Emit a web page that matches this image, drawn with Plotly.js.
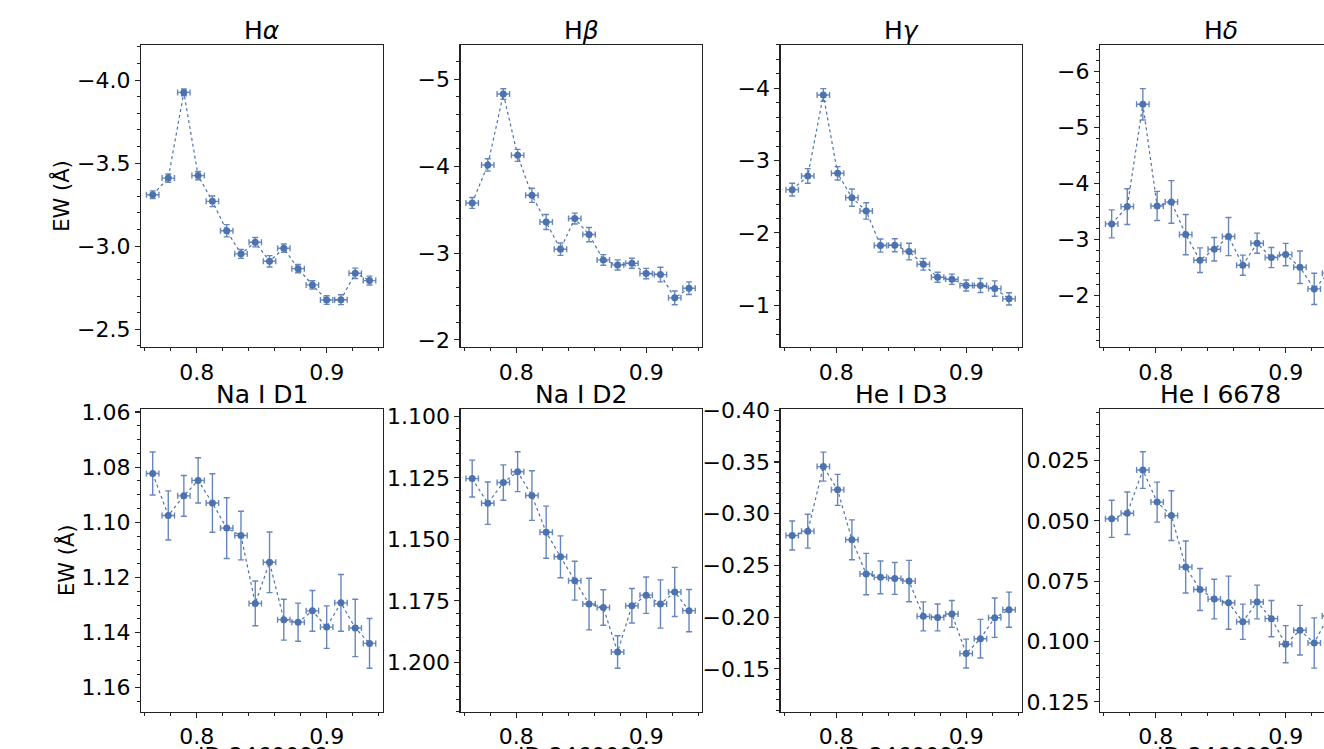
<!DOCTYPE html>
<html>
<head>
<meta charset="utf-8">
<script src="https://cdn.plot.ly/plotly-3.0.1.min.js"></script>
<style>
html, body { margin: 0; padding: 0; overflow: hidden; background: #fff; }
#chart { width: 1380px; height: 800px; }
</style>
</head>
<body>
<div id="chart"></div>
<script>
// ---- data ----
const jd = [0.766, 0.778, 0.790, 0.801, 0.812, 0.823, 0.834, 0.845, 0.856, 0.867, 0.878, 0.889, 0.900, 0.911, 0.922, 0.933];
const jdErr = 0.0048;

const lineNames = ['H<i>α</i>', 'H<i>β</i>', 'H<i>γ</i>', 'H<i>δ</i>', 'Na I D1', 'Na I D2', 'He I D3', 'He I 6678'];

const ewHalpha = [-3.310, -3.410, -3.926, -3.425, -3.270, -3.093, -2.954, -3.024, -2.909, -2.988, -2.865, -2.767, -2.676, -2.678, -2.837, -2.793];
const errHalpha = [0.023, 0.025, 0.020, 0.025, 0.032, 0.037, 0.027, 0.028, 0.034, 0.025, 0.025, 0.025, 0.026, 0.030, 0.031, 0.027];

const ewHbeta = [-3.577, -4.014, -4.831, -4.125, -3.665, -3.358, -3.044, -3.397, -3.213, -2.921, -2.863, -2.883, -2.764, -2.752, -2.484, -2.595];
const errHbeta = [0.063, 0.071, 0.061, 0.069, 0.082, 0.086, 0.071, 0.063, 0.082, 0.061, 0.058, 0.058, 0.060, 0.084, 0.079, 0.073];

const ewHgamma = [-2.599, -2.788, -3.908, -2.825, -2.488, -2.304, -1.825, -1.829, -1.742, -1.567, -1.387, -1.359, -1.272, -1.272, -1.230, -1.088];
const errHgamma = [0.088, 0.101, 0.088, 0.092, 0.120, 0.113, 0.090, 0.090, 0.115, 0.081, 0.069, 0.071, 0.076, 0.097, 0.106, 0.085];

const ewHdelta = [-3.280, -3.589, -5.417, -3.601, -3.673, -3.089, -2.631, -2.827, -3.054, -2.542, -2.935, -2.679, -2.732, -2.506, -2.119, -2.400];
const errHdelta = [0.25, 0.32, 0.28, 0.26, 0.38, 0.36, 0.22, 0.21, 0.34, 0.18, 0.18, 0.18, 0.20, 0.29, 0.28, 0.25];

const ewNaD1 = [1.0823, 1.0975, 1.0904, 1.0848, 1.0930, 1.1021, 1.1048, 1.1294, 1.1145, 1.1353, 1.1362, 1.1321, 1.1380, 1.1292, 1.1383, 1.1439];
const errNaD1 = [0.0078, 0.0089, 0.0074, 0.0082, 0.0106, 0.0110, 0.0088, 0.0081, 0.0110, 0.0074, 0.0069, 0.0074, 0.0077, 0.0103, 0.0104, 0.0090];

const ewNaD2 = [1.1253, 1.1353, 1.1269, 1.1225, 1.1322, 1.1471, 1.1571, 1.1668, 1.1763, 1.1777, 1.1958, 1.1770, 1.1727, 1.1763, 1.1714, 1.1790];
const errNaD2 = [0.0075, 0.0086, 0.0072, 0.0081, 0.0101, 0.0106, 0.0085, 0.0079, 0.0105, 0.0072, 0.0066, 0.0070, 0.0074, 0.0098, 0.0100, 0.0086];

const ewHeD3 = [-0.2790, -0.2832, -0.3456, -0.3231, -0.2748, -0.2417, -0.2385, -0.2375, -0.2349, -0.2008, -0.1998, -0.2031, -0.1648, -0.1792, -0.1995, -0.2072];
const errHeD3 = [0.014, 0.0164, 0.014, 0.015, 0.0193, 0.020, 0.0158, 0.0154, 0.020, 0.014, 0.013, 0.013, 0.014, 0.0187, 0.019, 0.017];

const ewHe6678 = [0.0491, 0.0468, 0.0289, 0.0422, 0.0478, 0.0691, 0.0784, 0.0824, 0.0839, 0.0918, 0.0836, 0.0905, 0.1011, 0.0953, 0.1006, 0.0894];
const errHe6678 = [0.0077, 0.0088, 0.0076, 0.0083, 0.0103, 0.0108, 0.0087, 0.0082, 0.0110, 0.0073, 0.0070, 0.0075, 0.0077, 0.0103, 0.0104, 0.0090];

const xTickVals = [0.8, 0.9];
const xTickText = ['0.8', '0.9'];
const xLabel = 'JD-2460096';
const yLabel = 'EW (Å)';

// ---- panel settings (ranges reversed: larger values at the bottom) ----
const panels = [
  {y: ewHalpha, e: errHalpha, range: [-2.392, -4.213], dtick: 0.5, minor: 0.1, fmt: '.1f'},
  {y: ewHbeta,  e: errHbeta,  range: [-1.916, -5.399], dtick: 1,   minor: 0.2, fmt: 'd'},
  {y: ewHgamma, e: errHgamma, range: [-0.419, -4.604], dtick: 1,   minor: 0.2, fmt: 'd'},
  {y: ewHdelta, e: errHdelta, range: [-1.077, -6.482], dtick: 1,   minor: 0.2, fmt: 'd'},
  {y: ewNaD1,   e: errNaD1,   range: [1.1686, 1.0589], dtick: 0.02, minor: 0.005, fmt: '.2f'},
  {y: ewNaD2,   e: errNaD2,   range: [1.2200, 1.0970], dtick: 0.025, minor: 0.005, fmt: '.3f'},
  {y: ewHeD3,   e: errHeD3,   range: [-0.1088, -0.4013], dtick: 0.05, minor: 0.01, fmt: '.2f'},
  {y: ewHe6678, e: errHe6678, range: [0.1290, 0.0036], dtick: 0.025, minor: 0.005, fmt: '.3f'}
];

const W = 1380, H = 800;
const colLeft = [141, 460.5, 780.5, 1100];
const panelW = 241.5;
const rowTop = [44.7, 409];
const panelH = 302.5;

const blue = '#4c72b0';
const font = 'DejaVu Sans, sans-serif';

const traces = [];
const layout = {
  width: W, height: H,
  margin: {l: 0, r: 0, t: 0, b: 0},
  paper_bgcolor: '#fff', plot_bgcolor: '#fff',
  showlegend: false,
  font: {family: font, size: 22, color: '#000'},
  annotations: []
};

panels.forEach((p, i) => {
  const n = i + 1;
  const row = Math.floor(i / 4), col = i % 4;
  const xa = n === 1 ? 'x' : 'x' + n;
  const ya = n === 1 ? 'y' : 'y' + n;
  traces.push({
    type: 'scatter', mode: 'lines+markers',
    x: jd, y: p.y, xaxis: xa, yaxis: ya,
    line: {color: blue, width: 1.2, dash: 'dot'},
    marker: {color: blue, size: 7},
    error_y: {type: 'data', array: p.e, visible: true, color: 'rgba(76,114,176,0.85)', thickness: 1.4, width: 3},
    error_x: {type: 'constant', value: jdErr, visible: true, color: 'rgba(76,114,176,0.85)', thickness: 1.4, width: 3},
    cliponaxis: true
  });
  const x0 = colLeft[col] / W, x1 = (colLeft[col] + panelW) / W;
  const yTopPx = rowTop[row], yBotPx = rowTop[row] + panelH;
  const common = {
    showline: true, mirror: true, linecolor: '#222', linewidth: 1.2,
    ticks: 'outside', ticklen: 5, tickwidth: 1.1, tickcolor: '#222',
    showgrid: false, zeroline: false,
    tickfont: {family: font, size: 22, color: '#000'}
  };
  layout[n === 1 ? 'xaxis' : 'xaxis' + n] = Object.assign({}, common, {
    domain: [x0, x1], anchor: ya,
    range: [0.757, 0.943],
    tickmode: 'array', tickvals: xTickVals, ticktext: xTickText,
    minor: {dtick: 0.02, tick0: 0, ticks: 'outside', ticklen: 3, tickwidth: 1, tickcolor: '#222', showgrid: false}
  });
  layout[n === 1 ? 'yaxis' : 'yaxis' + n] = Object.assign({}, common, {
    domain: [1 - yBotPx / H, 1 - yTopPx / H], anchor: xa,
    range: p.range,
    tick0: 0, dtick: p.dtick, tickformat: p.fmt,
    minor: {dtick: p.minor, tick0: 0, ticks: 'outside', ticklen: 3, tickwidth: 1, tickcolor: '#222', showgrid: false},
    title: col === 0 ? {text: yLabel, font: {family: font, size: 21, color: '#000'}, standoff: 1} : {text: ''}
  });
  // panel title
  layout.annotations.push({
    xref: xa + ' domain', yref: ya + ' domain', x: 0.5, y: 1,
    xanchor: 'center', yanchor: 'bottom', yshift: -2, showarrow: false,
    text: lineNames[i], font: {family: font, size: 25, color: '#000'}
  });
  // x-axis label for the bottom row
  if (row === 1) {
    layout.annotations.push({
      xref: xa + ' domain', yref: ya + ' domain', x: 0.5, y: 0,
      xanchor: 'center', yanchor: 'top', yshift: -29, showarrow: false,
      text: xLabel, font: {family: font, size: 22, color: '#000'}
    });
  }
});

Plotly.newPlot('chart', traces, layout, {displayModeBar: false, staticPlot: true});
</script>
</body>
</html>
